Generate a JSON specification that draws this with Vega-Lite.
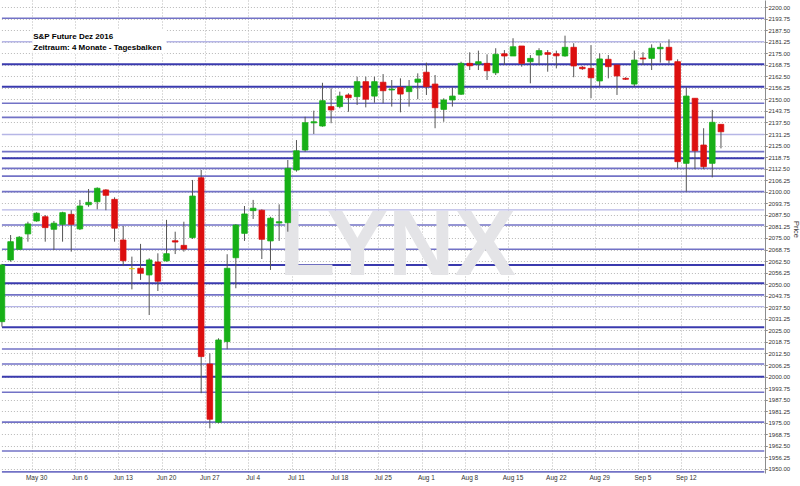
{
  "$schema": "https://vega.github.io/schema/vega-lite/v6.json",
  "width": 765,
  "height": 473,
  "autosize": "none",
  "padding": {"left": 0, "top": 0, "right": 35, "bottom": 13},
  "background": "white",
  "config": {
    "view": {"stroke": null},
    "font": "Liberation Sans",
    "axis": {
      "labelOverlap": false,
      "gridColor": "#b8b8b8",
      "gridDash": [1, 2],
      "gridWidth": 1,
      "labelFontSize": 6.5,
      "labelColor": "#333333"
    }
  },
  "datasets": {
    "ohlc": [
      {"d": "2016-05-24", "o": 2029.7, "h": 2061.0, "l": 2027.0, "c": 2060.4},
      {"d": "2016-05-25", "o": 2063.1, "h": 2076.6, "l": 2062.2, "c": 2073.0},
      {"d": "2016-05-26", "o": 2068.9, "h": 2076.0, "l": 2068.5, "c": 2075.4},
      {"d": "2016-05-27", "o": 2077.2, "h": 2083.8, "l": 2073.0, "c": 2082.6},
      {"d": "2016-05-30", "o": 2084.2, "h": 2088.9, "l": 2083.8, "c": 2088.4},
      {"d": "2016-05-31", "o": 2086.5, "h": 2087.4, "l": 2073.0, "c": 2080.6},
      {"d": "2016-06-01", "o": 2079.7, "h": 2084.2, "l": 2068.5, "c": 2083.0},
      {"d": "2016-06-02", "o": 2082.4, "h": 2089.2, "l": 2073.0, "c": 2088.7},
      {"d": "2016-06-03", "o": 2087.8, "h": 2090.0, "l": 2067.6, "c": 2082.4},
      {"d": "2016-06-06", "o": 2079.9, "h": 2095.6, "l": 2079.3, "c": 2092.3},
      {"d": "2016-06-07", "o": 2093.0, "h": 2101.5, "l": 2091.9, "c": 2094.3},
      {"d": "2016-06-08", "o": 2094.6, "h": 2102.4, "l": 2090.5, "c": 2101.9},
      {"d": "2016-06-09", "o": 2101.0, "h": 2101.4, "l": 2090.0, "c": 2098.1},
      {"d": "2016-06-10", "o": 2095.9, "h": 2097.0, "l": 2073.0, "c": 2080.3},
      {"d": "2016-06-13", "o": 2073.9, "h": 2081.5, "l": 2059.8, "c": 2062.7},
      {"d": "2016-06-14", "o": 2058.4, "h": 2064.9, "l": 2047.2, "c": 2058.4},
      {"d": "2016-06-15", "o": 2058.6, "h": 2071.8, "l": 2052.3, "c": 2055.9},
      {"d": "2016-06-16", "o": 2055.0, "h": 2064.0, "l": 2033.3, "c": 2063.1},
      {"d": "2016-06-17", "o": 2062.0, "h": 2066.7, "l": 2046.3, "c": 2051.6},
      {"d": "2016-06-20", "o": 2062.6, "h": 2084.8, "l": 2062.2, "c": 2066.5},
      {"d": "2016-06-21", "o": 2073.5, "h": 2078.4, "l": 2066.3, "c": 2072.8},
      {"d": "2016-06-22", "o": 2071.0, "h": 2083.8, "l": 2067.6, "c": 2069.0},
      {"d": "2016-06-23", "o": 2075.2, "h": 2106.4, "l": 2074.5, "c": 2097.7},
      {"d": "2016-06-24", "o": 2107.6, "h": 2111.8, "l": 1991.0, "c": 2010.8},
      {"d": "2016-06-27", "o": 2006.8, "h": 2012.6, "l": 1972.0, "c": 1976.9},
      {"d": "2016-06-28", "o": 1975.3, "h": 2020.7, "l": 1974.7, "c": 2019.8},
      {"d": "2016-06-29", "o": 2018.9, "h": 2066.2, "l": 2014.8, "c": 2058.6},
      {"d": "2016-06-30", "o": 2064.3, "h": 2082.5, "l": 2047.8, "c": 2082.0},
      {"d": "2016-07-01", "o": 2077.5, "h": 2092.3, "l": 2073.4, "c": 2088.0},
      {"d": "2016-07-04", "o": 2089.8, "h": 2095.6, "l": 2085.3, "c": 2091.1},
      {"d": "2016-07-05", "o": 2090.0, "h": 2090.5, "l": 2063.6, "c": 2074.3},
      {"d": "2016-07-06", "o": 2073.4, "h": 2086.5, "l": 2057.7, "c": 2085.7},
      {"d": "2016-07-07", "o": 2083.1, "h": 2093.2, "l": 2073.4, "c": 2083.8},
      {"d": "2016-07-08", "o": 2083.3, "h": 2117.2, "l": 2078.4, "c": 2112.7},
      {"d": "2016-07-11", "o": 2111.8, "h": 2128.0, "l": 2110.9, "c": 2122.2},
      {"d": "2016-07-12", "o": 2122.6, "h": 2140.6, "l": 2121.7, "c": 2137.4},
      {"d": "2016-07-13", "o": 2137.3, "h": 2143.9, "l": 2131.3, "c": 2137.9},
      {"d": "2016-07-14", "o": 2135.6, "h": 2159.0, "l": 2135.2, "c": 2149.3},
      {"d": "2016-07-15", "o": 2146.1, "h": 2156.0, "l": 2137.1, "c": 2144.3},
      {"d": "2016-07-18", "o": 2146.1, "h": 2154.2, "l": 2145.2, "c": 2151.8},
      {"d": "2016-07-19", "o": 2152.4, "h": 2153.3, "l": 2143.3, "c": 2150.9},
      {"d": "2016-07-20", "o": 2151.5, "h": 2162.3, "l": 2147.0, "c": 2159.6},
      {"d": "2016-07-21", "o": 2159.6, "h": 2162.3, "l": 2145.7, "c": 2150.1},
      {"d": "2016-07-22", "o": 2151.8, "h": 2162.3, "l": 2148.2, "c": 2159.6},
      {"d": "2016-07-25", "o": 2159.3, "h": 2163.7, "l": 2147.9, "c": 2154.7},
      {"d": "2016-07-26", "o": 2155.1, "h": 2160.5, "l": 2146.1, "c": 2155.6},
      {"d": "2016-07-27", "o": 2156.5, "h": 2161.4, "l": 2143.0, "c": 2152.9},
      {"d": "2016-07-28", "o": 2154.2, "h": 2160.5, "l": 2146.1, "c": 2156.9},
      {"d": "2016-07-29", "o": 2159.3, "h": 2164.1, "l": 2150.1, "c": 2161.0},
      {"d": "2016-08-01", "o": 2164.7, "h": 2169.9, "l": 2152.4, "c": 2156.9},
      {"d": "2016-08-02", "o": 2158.3, "h": 2163.2, "l": 2134.4, "c": 2145.5},
      {"d": "2016-08-03", "o": 2144.6, "h": 2150.6, "l": 2137.9, "c": 2149.7},
      {"d": "2016-08-04", "o": 2149.7, "h": 2156.5, "l": 2146.1, "c": 2151.8},
      {"d": "2016-08-05", "o": 2152.8, "h": 2170.4, "l": 2152.4, "c": 2169.5},
      {"d": "2016-08-08", "o": 2169.5, "h": 2175.5, "l": 2165.9, "c": 2168.2},
      {"d": "2016-08-09", "o": 2169.2, "h": 2176.4, "l": 2165.9, "c": 2170.4},
      {"d": "2016-08-10", "o": 2169.5, "h": 2174.4, "l": 2160.5, "c": 2165.5},
      {"d": "2016-08-11", "o": 2164.4, "h": 2177.7, "l": 2163.2, "c": 2174.4},
      {"d": "2016-08-12", "o": 2174.7, "h": 2176.7, "l": 2168.6, "c": 2173.5},
      {"d": "2016-08-15", "o": 2173.5, "h": 2183.1, "l": 2173.5, "c": 2178.5},
      {"d": "2016-08-16", "o": 2178.9, "h": 2178.9, "l": 2167.7, "c": 2169.5},
      {"d": "2016-08-17", "o": 2170.4, "h": 2174.0, "l": 2158.7, "c": 2172.2},
      {"d": "2016-08-18", "o": 2174.0, "h": 2177.7, "l": 2168.6, "c": 2176.4},
      {"d": "2016-08-19", "o": 2175.3, "h": 2176.7, "l": 2165.0, "c": 2174.4},
      {"d": "2016-08-22", "o": 2174.7, "h": 2176.4, "l": 2166.8, "c": 2173.6},
      {"d": "2016-08-23", "o": 2173.5, "h": 2184.5, "l": 2173.1, "c": 2178.2},
      {"d": "2016-08-24", "o": 2178.2, "h": 2180.4, "l": 2162.0, "c": 2168.1},
      {"d": "2016-08-25", "o": 2167.4, "h": 2168.0, "l": 2166.0, "c": 2166.6},
      {"d": "2016-08-26", "o": 2166.8, "h": 2179.4, "l": 2150.6, "c": 2161.7},
      {"d": "2016-08-29", "o": 2160.0, "h": 2174.9, "l": 2156.9, "c": 2171.9},
      {"d": "2016-08-30", "o": 2171.7, "h": 2174.0, "l": 2161.4, "c": 2167.7},
      {"d": "2016-08-31", "o": 2168.6, "h": 2168.6, "l": 2152.4, "c": 2162.7},
      {"d": "2016-09-01", "o": 2161.4, "h": 2162.0, "l": 2160.5, "c": 2160.9},
      {"d": "2016-09-02", "o": 2158.3, "h": 2176.4, "l": 2156.9, "c": 2171.3},
      {"d": "2016-09-05", "o": 2172.4, "h": 2175.5, "l": 2168.6, "c": 2171.9},
      {"d": "2016-09-06", "o": 2172.2, "h": 2179.8, "l": 2165.9, "c": 2177.7},
      {"d": "2016-09-07", "o": 2177.4, "h": 2180.4, "l": 2169.9, "c": 2178.2},
      {"d": "2016-09-08", "o": 2178.2, "h": 2182.5, "l": 2169.5, "c": 2171.3},
      {"d": "2016-09-09", "o": 2170.4, "h": 2171.7, "l": 2112.7, "c": 2116.3},
      {"d": "2016-09-12", "o": 2115.4, "h": 2156.5, "l": 2100.1, "c": 2151.8},
      {"d": "2016-09-13", "o": 2150.6, "h": 2150.6, "l": 2112.2, "c": 2122.2},
      {"d": "2016-09-14", "o": 2125.3, "h": 2134.4, "l": 2112.2, "c": 2113.6},
      {"d": "2016-09-15", "o": 2115.4, "h": 2144.3, "l": 2107.8, "c": 2137.6},
      {"d": "2016-09-16", "o": 2136.5, "h": 2136.5, "l": 2123.5, "c": 2132.5}
    ],
    "levels": [
      {"price": 2193.9, "kind": "normal"},
      {"price": 2181.2, "kind": "weak"},
      {"price": 2169.0, "kind": "strong"},
      {"price": 2156.9, "kind": "strong"},
      {"price": 2147.9, "kind": "normal"},
      {"price": 2140.3, "kind": "normal"},
      {"price": 2131.0, "kind": "weak"},
      {"price": 2121.7, "kind": "normal"},
      {"price": 2118.1, "kind": "strong"},
      {"price": 2112.7, "kind": "normal"},
      {"price": 2108.5, "kind": "normal"},
      {"price": 2100.1, "kind": "normal"},
      {"price": 2090.2, "kind": "weak"},
      {"price": 2082.0, "kind": "normal"},
      {"price": 2068.9, "kind": "normal"},
      {"price": 2060.4, "kind": "strong"},
      {"price": 2050.5, "kind": "strong"},
      {"price": 2044.2, "kind": "normal"},
      {"price": 2037.8, "kind": "weak"},
      {"price": 2026.7, "kind": "strong"},
      {"price": 2014.9, "kind": "normal"},
      {"price": 2006.8, "kind": "normal"},
      {"price": 1999.9, "kind": "strong"},
      {"price": 1991.5, "kind": "normal"},
      {"price": 1975.3, "kind": "normal"},
      {"price": 1959.7, "kind": "normal"},
      {"price": 1948.4, "kind": "normal"}
    ]
  },
  "layer": [
    {
      "data": {"name": "levels"},
      "mark": {"type": "rule"},
      "encoding": {
        "x": {
          "datum": "2016-05-24", "type": "ordinal", "title": null,
          "scale": {
            "domain": ["2016-05-24","2016-05-25","2016-05-26","2016-05-27","2016-05-30","2016-05-31","2016-06-01","2016-06-02","2016-06-03","2016-06-06","2016-06-07","2016-06-08","2016-06-09","2016-06-10","2016-06-13","2016-06-14","2016-06-15","2016-06-16","2016-06-17","2016-06-20","2016-06-21","2016-06-22","2016-06-23","2016-06-24","2016-06-27","2016-06-28","2016-06-29","2016-06-30","2016-07-01","2016-07-04","2016-07-05","2016-07-06","2016-07-07","2016-07-08","2016-07-11","2016-07-12","2016-07-13","2016-07-14","2016-07-15","2016-07-18","2016-07-19","2016-07-20","2016-07-21","2016-07-22","2016-07-25","2016-07-26","2016-07-27","2016-07-28","2016-07-29","2016-08-01","2016-08-02","2016-08-03","2016-08-04","2016-08-05","2016-08-08","2016-08-09","2016-08-10","2016-08-11","2016-08-12","2016-08-15","2016-08-16","2016-08-17","2016-08-18","2016-08-19","2016-08-22","2016-08-23","2016-08-24","2016-08-25","2016-08-26","2016-08-29","2016-08-30","2016-08-31","2016-09-01","2016-09-02","2016-09-05","2016-09-06","2016-09-07","2016-09-08","2016-09-09","2016-09-12","2016-09-13","2016-09-14","2016-09-15","2016-09-16","2016-09-19","2016-09-20","2016-09-21","2016-09-22","2016-09-23"],
            "range": [-2.4, 768.6],
            "paddingInner": 0,
            "paddingOuter": 0
          },
          "axis": {
            "values": ["2016-05-30","2016-06-06","2016-06-13","2016-06-20","2016-06-27","2016-07-04","2016-07-11","2016-07-18","2016-07-25","2016-08-01","2016-08-08","2016-08-15","2016-08-22","2016-08-29","2016-09-05","2016-09-12"],
            "tickCount": 100,
            "bandPosition": 0,
            "labelExpr": "timeFormat(timeParse(datum.value, '%Y-%m-%d'), '%b %-d')",
            "labelAngle": 0,
            "domain": false,
            "ticks": false,
            "grid": true,
            "labelOverlap": false,
            "labelPadding": 1.5
          }
        },
        "x2": {"datum": "2016-09-23"},
        "y": {
          "field": "price", "type": "quantitative", "title": "Price",
          "scale": {"domain": [1947.8, 2203.8], "nice": false, "zero": false},
          "axis": {
            "orient": "right",
            "values": [1950,1956.25,1962.5,1968.75,1975,1981.25,1987.5,1993.75,2000,2006.25,2012.5,2018.75,2025,2031.25,2037.5,2043.75,2050,2056.25,2062.5,2068.75,2075,2081.25,2087.5,2093.75,2100,2106.25,2112.5,2118.75,2125,2131.25,2137.5,2143.75,2150,2156.25,2162.5,2168.75,2175,2181.25,2187.5,2193.75,2200],
            "tickCount": 100,
            "format": ".2f",
            "labelOverlap": false,
            "labelFontSize": 6,
            "labelPadding": 1,
            "domain": true,
            "domainColor": "#8c8c8c",
            "ticks": true,
            "tickSize": 2,
            "tickColor": "#8c8c8c",
            "grid": true,
            "titleFontSize": 7.5,
            "titleFontWeight": "normal",
            "titleColor": "#333333",
            "titleAngle": 90,
            "titleAlign": "center",
            "titleBaseline": "middle",
            "titleX": 30,
            "titleY": 229
          }
        },
        "color": {"field": "kind", "type": "ordinal", "legend": null, "scale": {"domain": ["strong", "normal", "weak"], "range": ["#3a3aae", "#7272c6", "#b6b6e6"]}},
        "strokeWidth": {"field": "kind", "type": "ordinal", "legend": null, "scale": {"domain": ["strong", "normal", "weak"], "range": [2, 1.3, 2]}}
      }
    },
    {
      "data": {"values": [{}]},
      "mark": {"type": "text", "text": "LYNX", "fontSize": 92, "fontWeight": "bold", "font": "Liberation Sans Narrow, Liberation Sans", "color": "#e4e4e7", "align": "center", "baseline": "alphabetic", "dx": -3},
      "encoding": {
        "x": {"datum": "2016-07-27", "type": "ordinal"},
        "y": {"datum": 2055.0, "type": "quantitative"}
      }
    },
    {
      "data": {"values": [{}]},
      "mark": {"type": "rect", "color": "white"},
      "encoding": {
        "x": {"datum": "2016-05-30", "type": "ordinal", "bandPosition": 0},
        "x2": {"datum": "2016-06-20"},
        "y": {"datum": 2187.7, "type": "quantitative"},
        "y2": {"datum": 2174.8}
      }
    },
    {
      "data": {"values": [{}]},
      "mark": {"type": "text", "text": ["S&P Future Dez 2016", "Zeitraum: 4 Monate - Tagesbalken"], "align": "left", "baseline": "alphabetic", "fontSize": 8, "fontWeight": "bold", "lineHeight": 11.5, "color": "#000000", "font": "Liberation Sans", "dx": 1},
      "encoding": {
        "x": {"datum": "2016-05-30", "type": "ordinal", "bandPosition": 0},
        "y": {"datum": 2182.85, "type": "quantitative"}
      }
    },
    {
      "data": {"name": "ohlc"},
      "mark": {"type": "rule", "color": "#555555", "strokeWidth": 1, "clip": true},
      "encoding": {
        "x": {"field": "d", "type": "ordinal"},
        "y": {"field": "l", "type": "quantitative"},
        "y2": {"field": "h"}
      }
    },
    {
      "data": {"name": "ohlc"},
      "mark": {"type": "bar", "size": 5.6, "strokeWidth": 0.8, "clip": true},
      "encoding": {
        "x": {"field": "d", "type": "ordinal"},
        "y": {"field": "o", "type": "quantitative"},
        "y2": {"field": "c"},
        "color": {"condition": [{"test": "datum.c > datum.o", "value": "#17b017"}, {"test": "datum.c == datum.o", "value": "#e6d200"}], "value": "#dc0f0f"},
        "stroke": {"condition": [{"test": "datum.c > datum.o", "value": "#17b017"}, {"test": "datum.c == datum.o", "value": "#e6d200"}], "value": "#dc0f0f"}
      }
    }
  ]
}
